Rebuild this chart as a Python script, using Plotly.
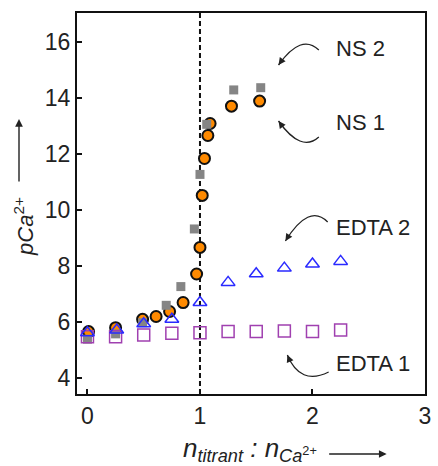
import plotly.graph_objects as go

# ---- data ----
ns1_x = [0.01, 0.25, 0.49, 0.61, 0.73, 0.85, 0.97, 1.00, 1.02, 1.04, 1.07, 1.09, 1.28, 1.53]
ns1_y = [5.66, 5.80, 6.10, 6.20, 6.38, 6.70, 7.72, 8.67, 10.53, 11.85, 12.67, 13.10, 13.72, 13.90]

ns2_x = [0.00, 0.25, 0.49, 0.70, 0.83, 0.95, 1.00, 1.06, 1.30, 1.54]
ns2_y = [5.39, 5.58, 5.98, 6.60, 7.27, 9.33, 11.28, 13.07, 14.30, 14.38]

edta2_x = [0.00, 0.26, 0.50, 0.75, 1.00, 1.25, 1.50, 1.75, 2.00, 2.25]
edta2_y = [5.62, 5.72, 5.94, 6.10, 6.70, 7.42, 7.73, 7.93, 8.08, 8.17]

edta1_x = [0.00, 0.25, 0.50, 0.75, 1.00, 1.25, 1.50, 1.75, 2.00, 2.25]
edta1_y = [5.48, 5.48, 5.54, 5.60, 5.62, 5.66, 5.66, 5.68, 5.66, 5.72]

x_ticks = [0, 1, 2, 3]
y_ticks = [4, 6, 8, 10, 12, 14, 16]
equiv_x = 1.0

# ---- layout geometry ----
WIDTH, HEIGHT = 438, 466
L, R, T, B = 77, 7, 13, 72
PW, PH = WIDTH - L - R, HEIGHT - T - B
X0, X1 = -0.093, 3.0
Y0, Y1 = 3.43, 17.05

def dx(px):
    return X0 + (px - L) / PW * (X1 - X0)

def dy(py):
    return Y1 - (py - T) / PH * (Y1 - Y0)

def paper_x(px):
    return (px - L) / PW

def paper_y(py):
    return (T + PH - py) / PH

FONT = "Liberation Sans, Arial, sans-serif"
TXT = "#222222"

fig = go.Figure()

fig.add_trace(go.Scatter(
    x=ns1_x, y=ns1_y, mode="markers", name="NS 1",
    marker=dict(symbol="circle", size=11, color="#ff8a00",
                line=dict(color="#111111", width=2))))
fig.add_trace(go.Scatter(
    x=ns2_x, y=ns2_y, mode="markers", name="NS 2",
    marker=dict(symbol="square", size=9, color="#858585",
                line=dict(width=0))))
fig.add_trace(go.Scatter(
    x=edta1_x, y=edta1_y, mode="markers", name="EDTA 1",
    marker=dict(symbol="square-open", size=12, color="#a040b0",
                line=dict(width=1.5))))
fig.add_trace(go.Scatter(
    x=edta2_x, y=edta2_y, mode="markers", name="EDTA 2",
    marker=dict(symbol="triangle-up-open", size=12, color="#2a2aff",
                line=dict(width=1.5))))

shapes = [dict(type="line", xref="x", yref="paper", x0=equiv_x, x1=equiv_x,
               y0=0, y1=1, line=dict(color="#111111", width=2, dash="5px,3px"),
               layer="below")]

annotations = []

# curved arrows: (start, control, end)
curves = [
    ((323, 50), (305, 33), (282, 65)),
    ((323, 137), (305, 153), (282, 121)),
    ((332, 222), (313, 203), (289, 241)),
    ((333, 372), (304, 386), (291, 355)),
]
for (sx, sy), (cx, cy), (ex, ey) in curves:
    shapes.append(dict(type="path", xref="x", yref="y",
                       path=f"M {dx(sx)},{dy(sy)} Q {dx(cx)},{dy(cy)} {dx(ex)},{dy(ey)}",
                       line=dict(color="#222222", width=1.3)))
    vx, vy = ex - cx, ey - cy
    n = (vx * vx + vy * vy) ** 0.5
    annotations.append(dict(x=dx(ex), y=dy(ey), xref="x", yref="y", text="",
                            showarrow=True, ax=-vx / n * 7, ay=-vy / n * 7,
                            arrowhead=2, arrowsize=1.1, arrowwidth=1.3,
                            arrowcolor="#222222", standoff=0))

labels = [("NS 2", 338, 48), ("NS 1", 338, 122), ("EDTA 2", 338, 227), ("EDTA 1", 338, 363)]
for txt, px, py in labels:
    annotations.append(dict(x=dx(px), y=dy(py), xref="x", yref="y", text=txt,
                            showarrow=False, xanchor="left", yanchor="middle",
                            font=dict(family=FONT, size=22, color=TXT)))

# axis titles
annotations.append(dict(
    x=paper_x(253), y=paper_y(449), xref="paper", yref="paper",
    text="<i>n</i><sub><i>titrant</i></sub><i> : n</i><sub><i>Ca</i><sup>2+</sup></sub>",
    showarrow=False, xanchor="center", yanchor="middle",
    font=dict(family=FONT, size=26, color=TXT)))
annotations.append(dict(
    x=paper_x(392), y=paper_y(454), xref="paper", yref="paper", text="",
    showarrow=True, ax=-59, ay=0, arrowhead=2, arrowsize=1.1, arrowwidth=1.4,
    arrowcolor="#222222", standoff=0))
annotations.append(dict(
    x=paper_x(23), y=paper_y(226), xref="paper", yref="paper",
    text="<i>p</i><i>Ca</i><sup>2+</sup>", textangle=-90,
    showarrow=False, xanchor="center", yanchor="middle",
    font=dict(family=FONT, size=22, color=TXT)))
annotations.append(dict(
    x=paper_x(18), y=paper_y(119), xref="paper", yref="paper", text="",
    showarrow=True, ax=0, ay=64, arrowhead=2, arrowsize=1.1, arrowwidth=1.4,
    arrowcolor="#222222", standoff=0))

axis_common = dict(showgrid=False, zeroline=False, showline=True, linecolor="#111111",
                   linewidth=2, mirror=True, ticks="inside", ticklen=5, tickwidth=1.5,
                   tickcolor="#111111",
                   tickfont=dict(family=FONT, size=23, color=TXT))

fig.update_layout(
    width=WIDTH, height=HEIGHT,
    margin=dict(l=L, r=R, t=T, b=B),
    paper_bgcolor="white", plot_bgcolor="white",
    showlegend=False,
    xaxis=dict(range=[X0, X1], tickvals=x_ticks, **axis_common),
    yaxis=dict(range=[Y0, Y1], tickvals=y_ticks, **axis_common),
    shapes=shapes, annotations=annotations,
)

fig.write_html("out.html")
